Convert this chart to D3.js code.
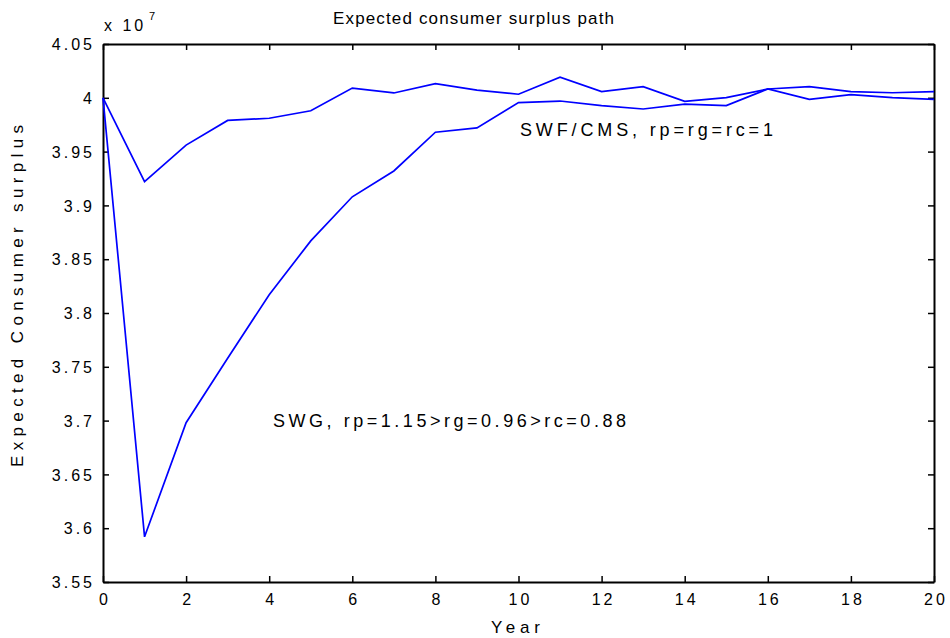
<!DOCTYPE html>
<html>
<head>
<meta charset="utf-8">
<script src="https://cdn.jsdelivr.net/npm/d3@7"></script>
<style>
  html, body { margin: 0; padding: 0; background: #fff; }
  svg { display: block; }
  text { font-family: "Liberation Sans", Arial, sans-serif; fill: #000; }
</style>
</head>
<body>
<svg id="chart" width="950" height="638"></svg>
<script>
// Data (values in units of 1e7)
const years = [0,1,2,3,4,5,6,7,8,9,10,11,12,13,14,15,16,17,18,19,20];
const swfCms = [4.000,3.922,3.956,3.979,3.981,3.988,4.009,4.0045,4.0131,4.0072,4.0033,4.0191,4.0057,4.0103,3.9967,4.0001,4.0082,4.0103,4.0057,4.0047,4.0057];
const swg    = [4.000,3.592,3.698,3.758,3.817,3.867,3.908,3.932,3.968,3.972,3.9955,3.997,3.9927,3.9896,3.9942,3.9927,4.0082,3.9986,4.0029,4.0001,3.9986];
const xTicks = [0,2,4,6,8,10,12,14,16,18,20];
const yTicks = [3.55,3.6,3.65,3.7,3.75,3.8,3.85,3.9,3.95,4,4.05];
const titleText = "Expected consumer surplus path";
const xLabel = "Year";
const yLabel = "Expected Consumer surplus";
const labelSWF = "SWF/CMS, rp=rg=rc=1";
const labelSWG = "SWG, rp=1.15>rg=0.96>rc=0.88";

const L = 103, R = 934, T = 44, B = 582;
const svg = d3.select("#chart");
const x = d3.scaleLinear().domain([0, 20]).range([L, R]);
const y = d3.scaleLinear().domain([3.55, 4.05]).range([B, T]);
const fmt = d => String(+d.toFixed(2));

// Axes
function styleAxis(g) {
  g.selectAll("path.domain").attr("stroke", "#000").attr("stroke-width", 2);
  g.selectAll(".tick line").attr("stroke", "#000").attr("stroke-width", 1.5);
}
const gx = svg.append("g").attr("transform", `translate(0,${B})`)
  .call(d3.axisBottom(x).tickValues(xTicks).tickSize(-6).tickSizeOuter(0).tickFormat(fmt));
styleAxis(gx);
gx.selectAll(".tick text").attr("y", 23).attr("dy", 0)
  .attr("font-size", 16).attr("letter-spacing", "3px").attr("dx", 1.5);

const gxt = svg.append("g").attr("transform", `translate(0,${T})`)
  .call(d3.axisTop(x).tickValues(xTicks).tickSize(-6).tickSizeOuter(0).tickFormat(""));
styleAxis(gxt);

const gy = svg.append("g").attr("transform", `translate(${L},0)`)
  .call(d3.axisLeft(y).tickValues(yTicks).tickSize(-6).tickSizeOuter(0).tickFormat(fmt));
styleAxis(gy);
gy.selectAll(".tick text").attr("x", -8).attr("dy", "0.35em")
  .attr("font-size", 16).attr("letter-spacing", "3px");

const gyr = svg.append("g").attr("transform", `translate(${R},0)`)
  .call(d3.axisRight(y).tickValues(yTicks).tickSize(-6).tickSizeOuter(0).tickFormat(""));
styleAxis(gyr);

// Lines
const line = d3.line().x((d, i) => x(years[i])).y(d => y(d));
[swfCms, swg].forEach(s => {
  svg.append("path").datum(s).attr("d", line)
    .attr("fill", "none").attr("stroke", "#0000ff").attr("stroke-width", 1.7)
    .attr("stroke-linejoin", "miter");
});

// Texts
svg.append("text").attr("x", 333).attr("y", 24).attr("font-size", 17)
  .attr("textLength", 281).attr("lengthAdjust", "spacing").text(titleText);

svg.append("text").attr("x", 491).attr("y", 633).attr("font-size", 17)
  .attr("textLength", 49).attr("lengthAdjust", "spacing").text(xLabel);

svg.append("text").attr("transform", "translate(23,467) rotate(-90)")
  .attr("font-size", 17).attr("textLength", 342).attr("lengthAdjust", "spacing").text(yLabel);

const mult = svg.append("text").attr("x", 104).attr("y", 31).attr("font-size", 16);
mult.append("tspan").attr("letter-spacing", "3px").text("x 10");
svg.append("text").attr("x", 149).attr("y", 20).attr("font-size", 11).text("7");

svg.append("text").attr("x", 520).attr("y", 136).attr("font-size", 18)
  .attr("textLength", 253).attr("lengthAdjust", "spacing").text(labelSWF);
svg.append("text").attr("x", 273).attr("y", 427).attr("font-size", 18)
  .attr("textLength", 353).attr("lengthAdjust", "spacing").text(labelSWG);
</script>
</body>
</html>
